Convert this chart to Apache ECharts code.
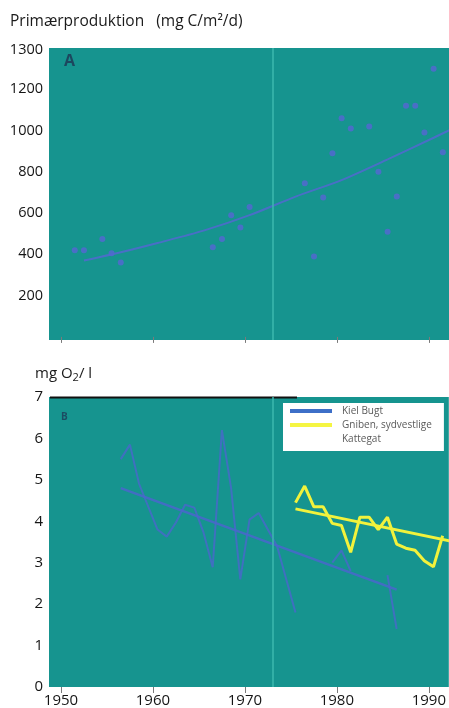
<!DOCTYPE html>
<html>
<head>
<meta charset="utf-8">
<script src="https://cdn.jsdelivr.net/npm/echarts@6/dist/echarts.min.js"></script>
<style>
  html, body { margin: 0; padding: 0; background: #ffffff; }
  #chart { width: 449px; height: 708px; }
</style>
</head>
<body>
<div id="chart"></div>
<script>
// ---------- data ----------
// Panel A: primary production (mg C/m2/d)
const prodYears  = [1951, 1952, 1954, 1955, 1956, 1966, 1967, 1968, 1969, 1970,
                    1976, 1977, 1978, 1979, 1980, 1981, 1983, 1984, 1985, 1986,
                    1987, 1988, 1989, 1990, 1991];
const prodValues = [420, 420, 475, 405, 360, 435, 475, 590, 530, 630,
                    745, 390, 675, 890, 1060, 1010, 1020, 800, 510, 680,
                    1120, 1120, 990, 1300, 895];
const prodTrendYears  = [1952, 1956, 1960, 1965, 1970, 1975, 1980, 1985, 1990, 1993];
const prodTrendValues = [370, 410, 455, 515, 590, 680, 760, 860, 965, 1030];

// Panel B: oxygen (mg O2/l)
const kielYears  = [1956, 1957, 1958, 1960, 1961, 1962, 1963, 1964, 1965, 1966,
                    1967, 1968, 1969, 1970, 1971, 1973, 1975, 1977, 1979, 1980,
                    1981, 1983, 1985, 1986];
const kielValues = [5.5, 5.85, 4.9, 3.8, 3.63, 3.97, 4.4, 4.33, 3.73, 2.89,
                    6.2, 4.8, 2.6, 4.04, 4.2, 3.4, 1.8, null, 3.0, 3.3,
                    2.8, null, 2.7, 1.4];
const kielTrendYears  = [1956, 1986];
const kielTrendValues = [4.8, 2.35];

const gnibenYears  = [1975, 1976, 1977, 1978, 1979, 1980, 1981, 1982, 1983, 1984,
                      1985, 1986, 1987, 1988, 1989, 1990, 1991];
const gnibenValues = [4.45, 4.85, 4.35, 4.35, 3.95, 3.9, 3.25, 4.1, 4.1, 3.8,
                      4.1, 3.45, 3.35, 3.3, 3.05, 2.9, 3.65];
const gnibenTrendYears  = [1975, 1993];
const gnibenTrendValues = [4.3, 3.47];

const decadeTicks = [1950, 1960, 1970, 1980, 1990];
const prodTicks   = [200, 400, 600, 800, 1000, 1200];

const seriesNames = ['Kiel Bugt', 'Gniben, sydvestlige\nKattegat'];

// ---------- helpers ----------
// annual values are plotted at mid-year
const pairs = (xs, ys) => xs.map((x, i) => [x + 0.5, ys[i]]);
const plain = v => String(v);

const FONT = '"Open Sans", "Noto Sans", sans-serif';
const PLOT_BG = '#16948f';
const XMIN = 1948.7, XMAX = 1992.17;

function xAxis(gridIndex, showLabels) {
  return {
    type: 'value', gridIndex, min: XMIN, max: XMAX,
    axisLine: { show: false },
    splitLine: { show: false },
    axisTick: { show: true, length: 6, customValues: decadeTicks,
                lineStyle: { color: '#7a7a7a', width: 1 } },
    axisLabel: { show: showLabels, customValues: decadeTicks, margin: 6,
                 formatter: plain,
                 fontFamily: FONT, fontSize: 15, color: '#151515' }
  };
}

const fold = {
  silent: true, symbol: 'none', label: { show: false },
  lineStyle: { color: '#3cb8ad', width: 2, type: 'solid', opacity: 0.75 },
  data: [{ xAxis: 1973.05 }]
};

const chart = echarts.init(document.getElementById('chart'), null, { renderer: 'canvas' });

const option = {
  animation: false,
  backgroundColor: '#ffffff',
  grid: [
    { left: 49, top: 48, width: 400, height: 292, show: true,
      backgroundColor: PLOT_BG, borderWidth: 0 },
    { left: 49, top: 397, width: 400, height: 291, show: true,
      backgroundColor: PLOT_BG, borderWidth: 0 }
  ],
  xAxis: [ xAxis(0, false), xAxis(1, true) ],
  yAxis: [
    { type: 'value', gridIndex: 0, min: -15, max: 1400,
      axisLine: { show: false }, axisTick: { show: false }, splitLine: { show: false },
      axisLabel: { customValues: prodTicks, margin: 6, formatter: plain,
                   fontFamily: FONT, fontSize: 14.5, color: '#151515' } },
    { type: 'value', gridIndex: 1, min: 0, max: 7, interval: 1,
      axisLine: { show: false }, axisTick: { show: false }, splitLine: { show: false },
      axisLabel: { margin: 6, formatter: plain,
                   fontFamily: FONT, fontSize: 15, color: '#151515' } }
  ],
  legend: {
    orient: 'vertical', left: 283, top: 403,
    backgroundColor: '#ffffff', borderWidth: 0,
    padding: [1, 12, 5, 7], itemGap: -14,
    itemWidth: 42, itemHeight: 4, icon: 'rect',
    // the two-line label gets an empty first line so its icon sits beside "Gniben"
    formatter: name => (name === seriesNames[1] ? '\n' + name : name),
    textStyle: { fontFamily: FONT, fontSize: 10, color: '#5a5a5a', lineHeight: 14,
                 padding: [0, 0, 0, 5] },
    data: seriesNames
  },
  series: [
    { type: 'scatter', xAxisIndex: 0, yAxisIndex: 0, name: 'Primærproduktion',
      data: pairs(prodYears, prodValues), symbol: 'circle', symbolSize: 6,
      itemStyle: { color: '#5268d0', opacity: 0.85 }, markLine: fold, z: 3 },
    { type: 'line', xAxisIndex: 0, yAxisIndex: 0, name: 'trend A',
      data: pairs(prodTrendYears, prodTrendValues), smooth: 0.3, showSymbol: false,
      lineStyle: { color: '#5268d0', width: 2, opacity: 0.85 }, z: 3 },
    { type: 'line', xAxisIndex: 1, yAxisIndex: 1, name: seriesNames[0],
      data: pairs(kielYears, kielValues), showSymbol: false, connectNulls: false,
      color: '#3d6fc8',
      lineStyle: { color: '#4a66cc', width: 2, opacity: 0.8 }, markLine: fold, z: 3 },
    { type: 'line', xAxisIndex: 1, yAxisIndex: 1, name: 'trend Kiel',
      data: pairs(kielTrendYears, kielTrendValues), showSymbol: false,
      lineStyle: { color: '#4a66cc', width: 2.5, opacity: 0.85 }, z: 3 },
    { type: 'line', xAxisIndex: 1, yAxisIndex: 1, name: seriesNames[1],
      data: pairs(gnibenYears, gnibenValues), showSymbol: false,
      color: '#f5f542',
      lineStyle: { color: '#f2f23c', width: 3 }, z: 4 },
    { type: 'line', xAxisIndex: 1, yAxisIndex: 1, name: 'trend Gniben',
      data: pairs(gnibenTrendYears, gnibenTrendValues), showSymbol: false,
      lineStyle: { color: '#f2f23c', width: 3 }, z: 4 }
  ],
  graphic: [
    { type: 'text', left: 10, top: 14,
      style: { text: 'Primærproduktion   (mg C/m²/d)', fontFamily: FONT,
               fontSize: 15.5, fill: '#1a1a1a' } },
    { type: 'text', right: 406, top: 42,
      style: { text: '1300', fontFamily: FONT, fontSize: 14.5, fill: '#151515',
               align: 'right' } },
    { type: 'text', left: 64, top: 53,
      style: { text: 'A', fontFamily: FONT, fontSize: 16, fontWeight: 'bold',
               fill: '#1d3a56', opacity: 0.85 } },
    { type: 'text', left: 35, top: 366,
      style: { text: 'mg O{s|2}/ l', fontFamily: FONT, fontSize: 15, fill: '#1a1a1a',
               rich: { s: { fontFamily: FONT, fontSize: 11, fill: '#1a1a1a',
                            padding: [9, 0, 0, 0] } } } },
    { type: 'text', left: 61, top: 412,
      style: { text: 'B', fontFamily: FONT, fontSize: 10, fontWeight: 'bold',
               fill: '#1d3a56', opacity: 0.8 } },
    { type: 'line', shape: { x1: 50, y1: 397.5, x2: 297, y2: 397.5 },
      style: { stroke: '#111111', lineWidth: 2 } }
  ]
};

chart.setOption(option);
</script>
</body>
</html>
